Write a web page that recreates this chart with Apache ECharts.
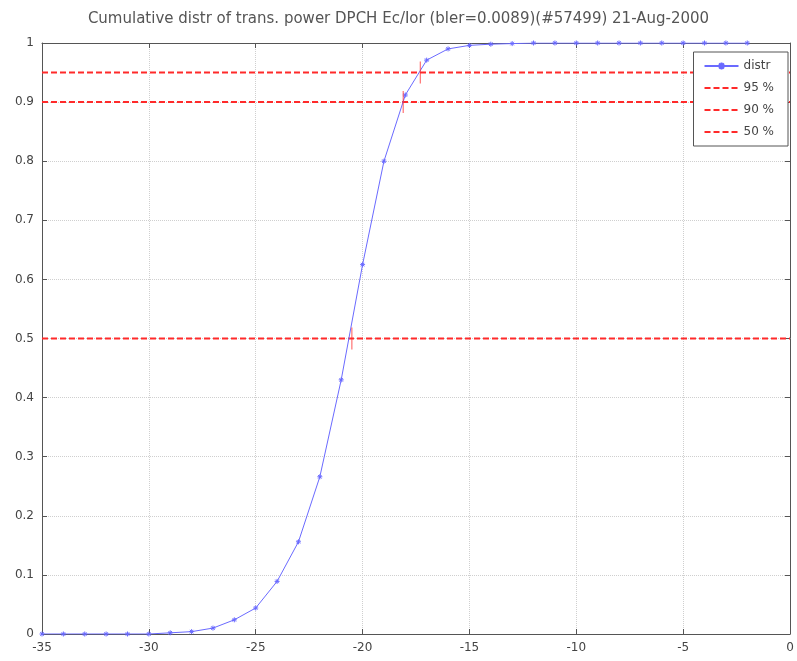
<!DOCTYPE html>
<html><head><meta charset="utf-8">
<script src="https://cdn.jsdelivr.net/npm/echarts@6/dist/echarts.min.js"></script>
<style>html,body{margin:0;padding:0;background:#fff}#c{width:797px;height:661px}</style>
</head><body><div id="c"></div>
<script>
var titleText = 'Cumulative distr of trans. power DPCH Ec/Ior (bler=0.0089)(#57499) 21-Aug-2000';
var xValues = [-35,-34,-33,-32,-31,-30,-29,-28,-27,-26,-25,-24,-23,-22,-21,-20,-19,-18,-17,-16,-15,-14,-13,-12,-11,-10,-9,-8,-7,-6,-5,-4,-3,-2];
var distr = [0,0,0,0,0,0,0.002,0.004,0.01,0.024,0.044,0.089,0.156,0.266,0.43,0.625,0.8,0.912,0.971,0.99,0.996,0.998,0.999,1,1,1,1,1,1,1,1,1,1,1];
var levelNames = ['95 %','90 %','50 %'];
var levelValues = [0.95, 0.9, 0.5];
var crossX = [-17.3, -18.1, -20.5];

var font = 'DejaVu Sans';
var blue = '#6a6aff', red = '#ff2a2a';
var series = [{
  name: 'distr', type: 'line', data: xValues.map(function(x,i){return [x, distr[i]];}),
  showAllSymbol: true,
  lineStyle: {color: blue, width: 1}, itemStyle: {color: blue, borderColor: blue, borderWidth: 1},
  symbol: 'path://M0,5L10,5M5,0L5,10M1.5,1.5L8.5,8.5M8.5,1.5L1.5,8.5', symbolSize: 5, z: 3
}];
levelValues.forEach(function(v, i){
  series.push({
    name: levelNames[i], type: 'line', data: [[-35, v], [0, v]], symbol: 'none',
    lineStyle: {color: red, width: 2, type: [6, 3]}, itemStyle: {color: red}, z: 2
  });
  series.push({
    name: 'cross' + i, type: 'scatter', data: [[crossX[i], v]], symbol: 'rect', symbolSize: [1, 22],
    itemStyle: {color: red}, silent: true, z: 4
  });
});

var legendData = [{name: 'distr'}].concat(levelNames.map(function(n){ return {name: n, itemStyle: {opacity: 0}}; }));

var chart = echarts.init(document.getElementById('c'));
chart.setOption({
  animation: false,
  backgroundColor: '#fff',
  title: {text: titleText, left: 'center', top: 7, textStyle: {fontFamily: font, fontSize: 15, fontWeight: 'normal', color: '#555'}},
  grid: {left: 42, right: 7, top: 43, bottom: 27},
  legend: {
    data: legendData, orient: 'vertical', right: 9, top: 52,
    backgroundColor: '#fff', borderColor: '#555', borderWidth: 1, borderRadius: 0, padding: [8, 14, 8, 10],
    itemWidth: 34, itemHeight: 9, itemGap: 10,
    textStyle: {fontFamily: font, fontSize: 12, color: '#444'}
  },
  xAxis: [{
    type: 'value', min: -35, max: 0, interval: 5,
    axisLine: {show: true, onZero: false, lineStyle: {color: '#555'}},
    axisTick: {inside: true, length: 5, lineStyle: {color: '#555'}},
    axisLabel: {fontFamily: font, fontSize: 12, color: '#444', margin: 8},
    splitLine: {show: true, lineStyle: {color: '#cfcfcf', type: 'dotted'}}
  }, {
    type: 'value', position: 'top', min: -35, max: 0, interval: 5,
    axisLine: {show: true, onZero: false, lineStyle: {color: '#555'}},
    axisTick: {inside: true, length: 5, lineStyle: {color: '#555'}},
    axisLabel: {show: false}, splitLine: {show: false}
  }],
  yAxis: [{
    type: 'value', min: 0, max: 1, interval: 0.1,
    axisLine: {show: true, onZero: false, lineStyle: {color: '#555'}},
    axisTick: {inside: true, length: 5, lineStyle: {color: '#555'}},
    axisLabel: {fontFamily: font, fontSize: 12, color: '#444', margin: 8,
      formatter: function(v){ return String(Math.round(v*10)/10); }},
    splitLine: {show: true, lineStyle: {color: '#cfcfcf', type: 'dotted'}}
  }, {
    type: 'value', position: 'right', min: 0, max: 1, interval: 0.1,
    axisLine: {show: true, onZero: false, lineStyle: {color: '#555'}},
    axisTick: {inside: true, length: 5, lineStyle: {color: '#555'}},
    axisLabel: {show: false}, splitLine: {show: false}
  }],
  series: series
});
</script></body></html>
